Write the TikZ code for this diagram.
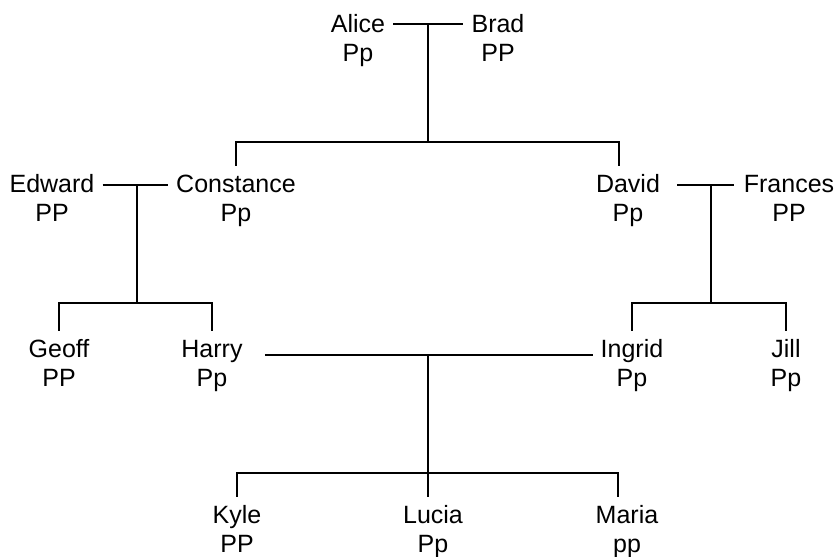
\documentclass[tikz,border=0pt]{standalone}
\usepackage{fontspec}
\setmainfont{Liberation Sans}
\usetikzlibrary{positioning}
\begin{document}
\begin{tikzpicture}[x=1pt,y=-1pt,node distance=3pt,
  person/.style={anchor=base,font=\fontsize{25}{29}\selectfont,inner xsep=8pt,inner ysep=9pt,text height=17pt,text depth=0pt},
  geno/.style={font=\fontsize{25}{29}\selectfont,inner sep=0pt,text height=17pt,text depth=5pt},
  rel/.style={draw,line width=2.8pt}]
\useasboundingbox (0,0) rectangle (836,557);
\node[person] (alice) at (358,32) {Alice};\node[geno,below=of alice] (aliceG) {Pp};
\node[person] (brad) at (498,32) {Brad};\node[geno,below=of brad] (bradG) {PP};
\node[person] (edward) at (52,192) {Edward};\node[geno,below=of edward] (edwardG) {PP};
\node[person] (constance) at (236,192) {Constance};\node[geno,below=of constance] (constanceG) {Pp};
\node[person] (david) at (628,192) {David};\node[geno,below=of david] (davidG) {Pp};
\node[person] (frances) at (789,192) {Frances};\node[geno,below=of frances] (francesG) {PP};
\node[person] (geoff) at (59,357) {Geoff};\node[geno,below=of geoff] (geoffG) {PP};
\node[person] (harry) at (212,357) {Harry};\node[geno,below=of harry] (harryG) {Pp};
\node[person] (ingrid) at (632,357) {Ingrid};\node[geno,below=of ingrid] (ingridG) {Pp};
\node[person] (jill) at (786,357) {Jill};\node[geno,below=of jill] (jillG) {Pp};
\node[person] (kyle) at (237,523) {Kyle};\node[geno,below=of kyle] (kyleG) {PP};
\node[person] (lucia) at (433,523) {Lucia};\node[geno,below=of lucia] (luciaG) {Pp};
\node[person] (maria) at (627,523) {Maria};\node[geno,below=of maria] (mariaG) {pp};
\coordinate (ab) at (428,24);\coordinate (abK) at (428,142);
\coordinate (ec) at (137,185);\coordinate (ecK) at (137,303);
\coordinate (df) at (711,185);\coordinate (dfK) at (711,303);
\coordinate (hi) at (428,355);\coordinate (hiK) at (428,473);
\draw[rel] (alice.east |- ab)--(brad.west |- ab);\draw[rel] (ab)--(abK);
\draw[rel] (constance.north) |- (abK) -| ([xshift=-9pt]david.north);
\draw[rel] (edward.east |- ec)--(constance.west |- ec);\draw[rel] (ec)--(ecK);
\draw[rel] (geoff.north) |- (ecK) -| (harry.north);
\draw[rel,shorten <=9pt,shorten >=2pt] (david.east |- df)--(frances.west |- df);\draw[rel] (df)--(dfK);
\draw[rel] (ingrid.north) |- (dfK) -| (jill.north);
\draw[rel,shorten <=14pt] (harry.east |- hi)--(ingrid.west |- hi);\draw[rel] (hi)--([xshift=-5pt]lucia.north);
\draw[rel] (kyle.north) |- (hiK) -| ([xshift=-9pt]maria.north);
\end{tikzpicture}
\end{document}
